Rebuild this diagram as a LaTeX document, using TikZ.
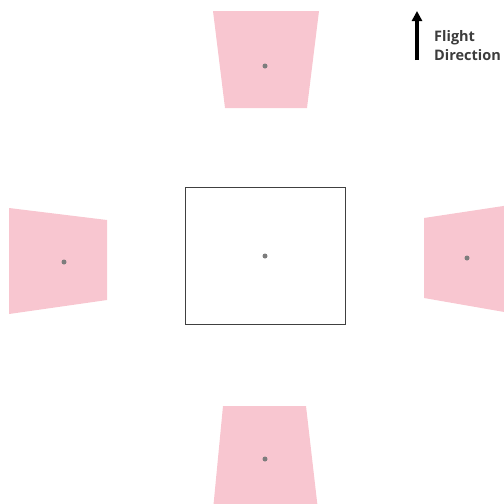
\documentclass[tikz,border=0pt]{standalone}
\usepackage{fontspec}
\setsansfont{Open Sans}
\usetikzlibrary{positioning, arrows.meta}
\definecolor{footprint}{RGB}{248,198,208}
\definecolor{centre}{RGB}{125,125,125}
\definecolor{labelgray}{RGB}{60,60,60}

\begin{document}
\begin{tikzpicture}[
    x=1pt, y=-1pt,
    foot/.style={fill=footprint, draw=none},
    dot/.style={circle, fill=centre, inner sep=0pt, minimum size=5pt},
    frame/.style={draw=black!75, line width=0.9pt},
    arr/.style={-{Triangle[length=10pt, width=10pt]}, line width=3.6pt},
    lbl/.style={align=left, inner sep=0pt, text=labelgray, font=\sffamily\bfseries\fontsize{14.5}{19}\selectfont}
]
    \useasboundingbox (0,0) rectangle (504,504);
    \clip (0,0) rectangle (504,504);

    % neighbouring footprints
    \fill[foot] (213,11) -- (319,11) -- (307,108) -- (225,108) -- cycle;
    \fill[foot] (223,406) -- (306,406) -- (318,510) -- (213,510) -- cycle;
    \fill[foot] (9,208) -- (107,220) -- (107,300) -- (9,314) -- cycle;
    \fill[foot] (424,218) -- (510,205) -- (510,313) -- (424,298) -- cycle;

    % central image
    \draw[frame] (185,187) rectangle (345,324);

    \node[dot] (ctr) at (265,256) {};
    \node[dot] (top) at (265,66) {};
    \node[dot] (bot) at (265,459) {};
    \node[dot] (lft) at (64,262) {};
    \node[dot] (rgt) at (467,258) {};

    % flight direction
    \coordinate (tail) at (417,60);
    \coordinate (tip) at (417,11);
    \draw[arr] (tail) -- (tip);
    \node[lbl, anchor=north west] (dir) at (434,30) {Flight\\Direction};
\end{tikzpicture}
\end{document}
